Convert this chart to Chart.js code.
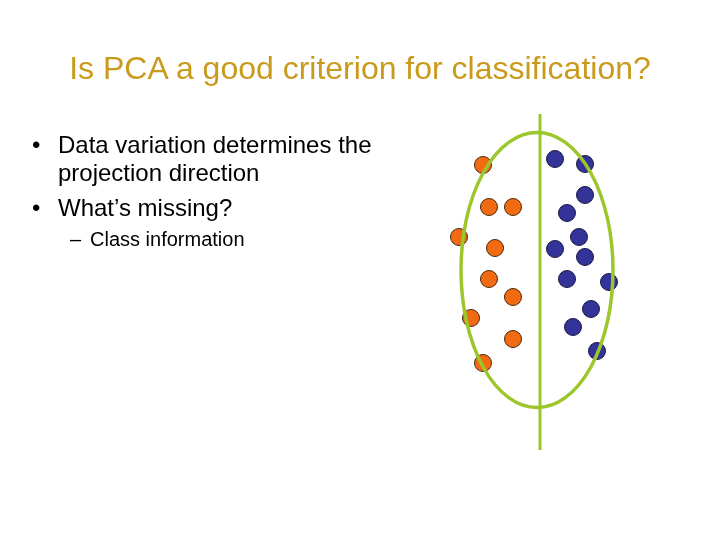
<!DOCTYPE html>
<html>
<head>
<meta charset="utf-8">
<script src="https://cdn.jsdelivr.net/npm/chart.js@4"></script>
<style>
  body { margin: 0; background: #fff; }
  #wrap { position: relative; width: 720px; height: 540px; font-family: Arial, "Liberation Sans", sans-serif; }
  #slideChart { position: absolute; left: 0; top: 0; }
  .txt { position: absolute; white-space: nowrap; color: #000; }
  #title { left: 0; width: 720px; top: 52px; text-align: center; font-size: 32px; line-height: 32px; color: #c99a1c; }
  .b1 { font-size: 24px; line-height: 28px; }
  .b2 { font-size: 20px; line-height: 24px; }
  .mark { position: absolute; }
</style>
</head>
<body>
<div id="wrap">
  <canvas id="slideChart" width="720" height="540"></canvas>
  <div id="title" class="txt">Is PCA a good criterion for classification?</div>
  <div class="txt b1" style="left:58px; top:131px;"><span class="mark" style="left:-26px;">•</span>Data variation determines the<br>projection direction</div>
  <div class="txt b1" style="left:58px; top:194px;"><span class="mark" style="left:-26px;">•</span>What’s missing?</div>
  <div class="txt b2" style="left:90px; top:227px;"><span class="mark" style="left:-20px;">–</span>Class information</div>
</div>
<script>
/************ 데이터 ************/
// 주황색 클래스 (x, y)
const orangeX = [-5.7, -5.1, -2.7, -8.1, -4.5, -5.1, -2.7, -6.9, -2.7, -5.7];
const orangeY = [10.5, 6.3, 6.3, 3.3, 2.2, -0.9, -2.7, -4.8, -6.9, -9.3];
// 파란색 클래스 (x, y)
const blueX = [1.5, 4.5, 4.5, 2.7, 3.9, 1.5, 4.5, 2.7, 6.9, 5.1, 3.3, 5.7];
const blueY = [11.1, 10.6, 7.5, 5.7, 3.3, 2.1, 1.3, -0.9, -1.2, -3.9, -5.7, -8.1];
// 투영 방향 (세로선)
const axisX = [0, 0];
const axisY = [15.6, -18];
// 데이터 분포 타원: 중심, 반지름
const ellipseCenter = [-0.3, 0];
const ellipseRadius = [7.6, 13.75];

const toPoints = (xs, ys) => xs.map((x, i) => ({ x: x, y: ys[i] }));

/************ 타원 그리기 플러그인 ************/
const ellipsePlugin = {
  id: 'ellipse',
  afterDatasetsDraw(chart) {
    const { ctx, scales } = chart;
    const cx = scales.x.getPixelForValue(ellipseCenter[0]);
    const cy = scales.y.getPixelForValue(ellipseCenter[1]);
    const rx = Math.abs(scales.x.getPixelForValue(ellipseCenter[0] + ellipseRadius[0]) - cx);
    const ry = Math.abs(scales.y.getPixelForValue(ellipseCenter[1] + ellipseRadius[1]) - cy);
    ctx.save();
    ctx.beginPath();
    ctx.ellipse(cx, cy, rx, ry, 0, 0, Math.PI * 2);
    ctx.strokeStyle = '#9cc72c';
    ctx.lineWidth = 3.5;
    ctx.stroke();
    ctx.restore();
  },
};

const ctx = document.getElementById('slideChart');

const config = {
  type: 'scatter',
  data: {
    datasets: [
      {
        label: 'direction',
        type: 'line',
        data: toPoints(axisX, axisY),
        borderColor: '#9cc72c',
        borderWidth: 3,
        pointRadius: 0,
        fill: false,
      },
      {
        label: 'class 1',
        data: toPoints(orangeX, orangeY),
        backgroundColor: '#f26a12',
        borderColor: '#4a2a10',
        borderWidth: 1,
        pointRadius: 8.5,
      },
      {
        label: 'class 2',
        data: toPoints(blueX, blueY),
        backgroundColor: '#333399',
        borderColor: '#1a1a40',
        borderWidth: 1,
        pointRadius: 8.5,
      },
    ],
  },
  options: {
    responsive: false,
    animation: false,
    clip: false,
    layout: { padding: 0, autoPadding: false },
    scales: {
      x: { type: 'linear', min: -54, max: 18, display: false },
      y: { type: 'linear', min: -27, max: 27, display: false },
    },
    plugins: {
      legend: { display: false },
      tooltip: { enabled: false },
    },
  },
  plugins: [ellipsePlugin],
};

new Chart(ctx, config);
</script>
</body>
</html>
